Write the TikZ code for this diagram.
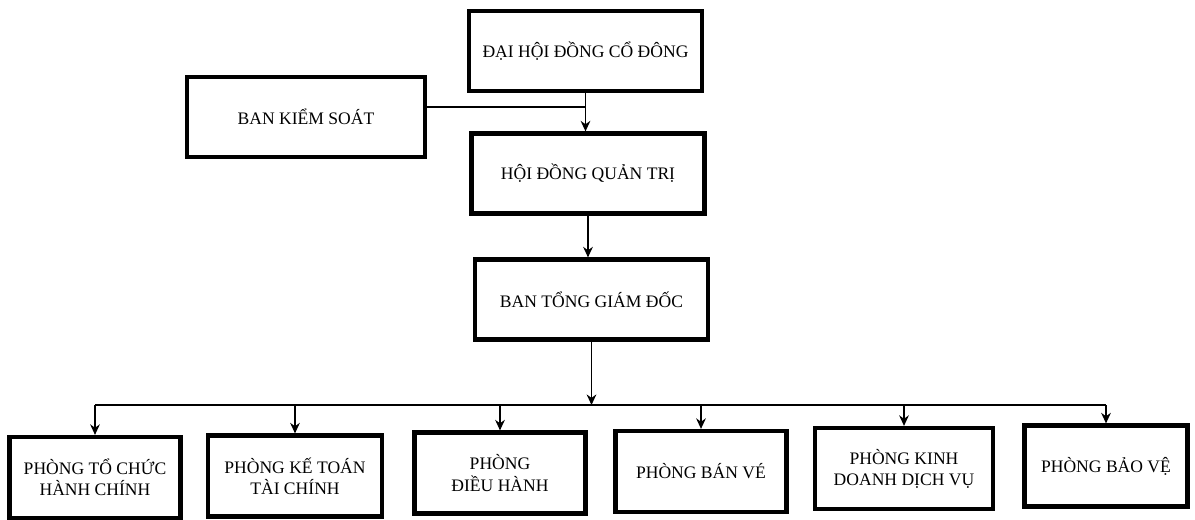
\documentclass[tikz,border=0pt]{standalone}
\usepackage{fontspec}
\setmainfont{Liberation Serif}
\usetikzlibrary{arrows.meta}
\begin{document}
\begin{tikzpicture}[>={Stealth[length=6pt,width=5.5pt]},font=\fontsize{10}{12}\selectfont]
      \tikzset{box/.style={draw, line width=2.4pt, minimum width=4.66cm, minimum height=1.6cm, align=center},
               dept/.style={draw, line width=2.4pt, minimum width=3.42cm, minimum height=1.62cm, align=center},
               link/.style={line width=0.8pt}}
      \useasboundingbox (0,0) rectangle (23.9,-10.38);
      \node[box] (dhd) at (11.71,-1.02) {ĐẠI HỘI ĐỒNG CỔ ĐÔNG};
      \node[box, minimum width=4.76cm] (bks) at (6.12,-2.34) {BAN KIỂM SOÁT};
      \node[box] (hdqt) at (11.76,-3.47) {HỘI ĐỒNG QUẢN TRỊ};
      \node[box] (btgd) at (11.83,-5.99) {BAN TỔNG GIÁM ĐỐC};
      \node[dept] (hc) at (1.9,-9.55) {PHÒNG TỔ CHỨC\\HÀNH CHÍNH};
      \node[dept, minimum width=3.48cm] (kt) at (5.9,-9.52) {PHÒNG KẾ TOÁN\\TÀI CHÍNH};
      \node[dept] (dh) at (10.0,-9.46) {PHÒNG\\ĐIỀU HÀNH};
      \node[dept] (bv) at (14.02,-9.43) {PHÒNG BÁN VÉ};
      \node[dept, minimum width=3.56cm] (kd) at (18.08,-9.37) {PHÒNG KINH\\DOANH DỊCH VỤ};
      \node[dept, minimum width=3.26cm] (bve) at (22.12,-9.32) {PHÒNG BẢO VỆ};
      \coordinate (bus) at (11.68,-8.1);
      \draw[link,->] (dhd.south) -- (dhd.south |- hdqt.north);
      \draw[link] ([yshift=2mm]bks.east) -- ([yshift=2mm]bks.east -| dhd.south);
      \draw[link,->] (hdqt.south) -- (hdqt.south |- btgd.north);
      \draw[link,->] (btgd.south) -- (btgd.south |- bus);
      \draw[link] (hc.north |- bus) -- (bve.north |- bus);
      \foreach \d in {hc,kt,dh,bv,kd,bve}
        \draw[link,->] (\d.north |- bus) -- (\d.north);
    \end{tikzpicture}
\end{document}
